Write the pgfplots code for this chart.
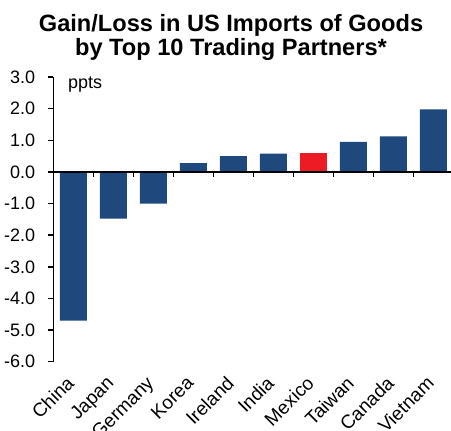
\documentclass[border=0pt]{standalone}
\usepackage{fontspec}
\setmainfont{Liberation Sans}
\usepackage{pgfplots}
\pgfplotsset{compat=1.18}
\definecolor{barblue}{HTML}{1F497D}
\definecolor{barred}{HTML}{ED1C24}
\begin{document}
\begin{tikzpicture}[x=1bp,y=1bp]
\begin{axis}[
  at={(0,0)}, anchor=south west,
  scale only axis, width=398bp, height=284.7bp,
  xmin=-0.5, xmax=9.45, ymin=-6, ymax=3,
  axis y line=left, axis x line=bottom,
  axis line style={-, line width=1.5bp},
  x axis line style={draw=none},
  xtick={0,...,9},
  xticklabels={China,Japan,Germany,Korea,Ireland,India,Mexico,Taiwan,Canada,Vietnam},
  x tick style={draw=none},
  xticklabel style={xshift=-8bp, yshift=-8bp, rotate=45, anchor=north east, inner sep=0pt, font=\fontsize{19bp}{19bp}\selectfont},
  ytick={-6,...,3},
  yticklabel style={/pgf/number format/.cd, fixed, fixed zerofill, precision=1, /tikz/.cd, font=\fontsize{18bp}{18bp}\selectfont, inner sep=0pt, anchor=east, xshift=-13bp},
  /pgf/number format/assume math mode=true,
  y tick style={line width=1.5bp, black},
  tick align=outside, major tick length=5bp,
  clip=false,
]
\addplot[ybar, bar width=0.675, bar shift=0pt, fill=barblue, draw=none] coordinates {(0,-4.7) (1,-1.48) (2,-1.0) (3,0.28) (4,0.5) (5,0.58) (7,0.95) (8,1.12) (9,1.98)};
\addplot[ybar, bar width=0.675, bar shift=0pt, fill=barred, draw=none] coordinates {(6,0.6)};
\draw[line width=1.5bp] (axis cs:-0.5,0) -- (axis cs:9.45,0);
\pgfplotsinvokeforeach{0.5,1.5,2.5,3.5,4.5,5.5,6.5,7.5,8.5}{
  \draw[line width=1.5bp] (axis cs:#1,0) -- (axis cs:#1,-0.16);
}
\end{axis}
\node[anchor=base west, inner sep=0pt, font=\fontsize{18bp}{18bp}\selectfont] at (14.7,273.7) {ppts};
\node[anchor=base, inner sep=0pt, font=\bfseries\fontsize{23.6bp}{23.6bp}\selectfont] at (177.7,330.7) {Gain/Loss in US Imports of Goods};
\node[anchor=base, inner sep=0pt, font=\bfseries\fontsize{23.6bp}{23.6bp}\selectfont] at (177.7,306.7) {by Top 10 Trading Partners*};
\pgfresetboundingbox
\path (-53.3,-68.3) rectangle (397.7,361.7);
\end{tikzpicture}
\end{document}
